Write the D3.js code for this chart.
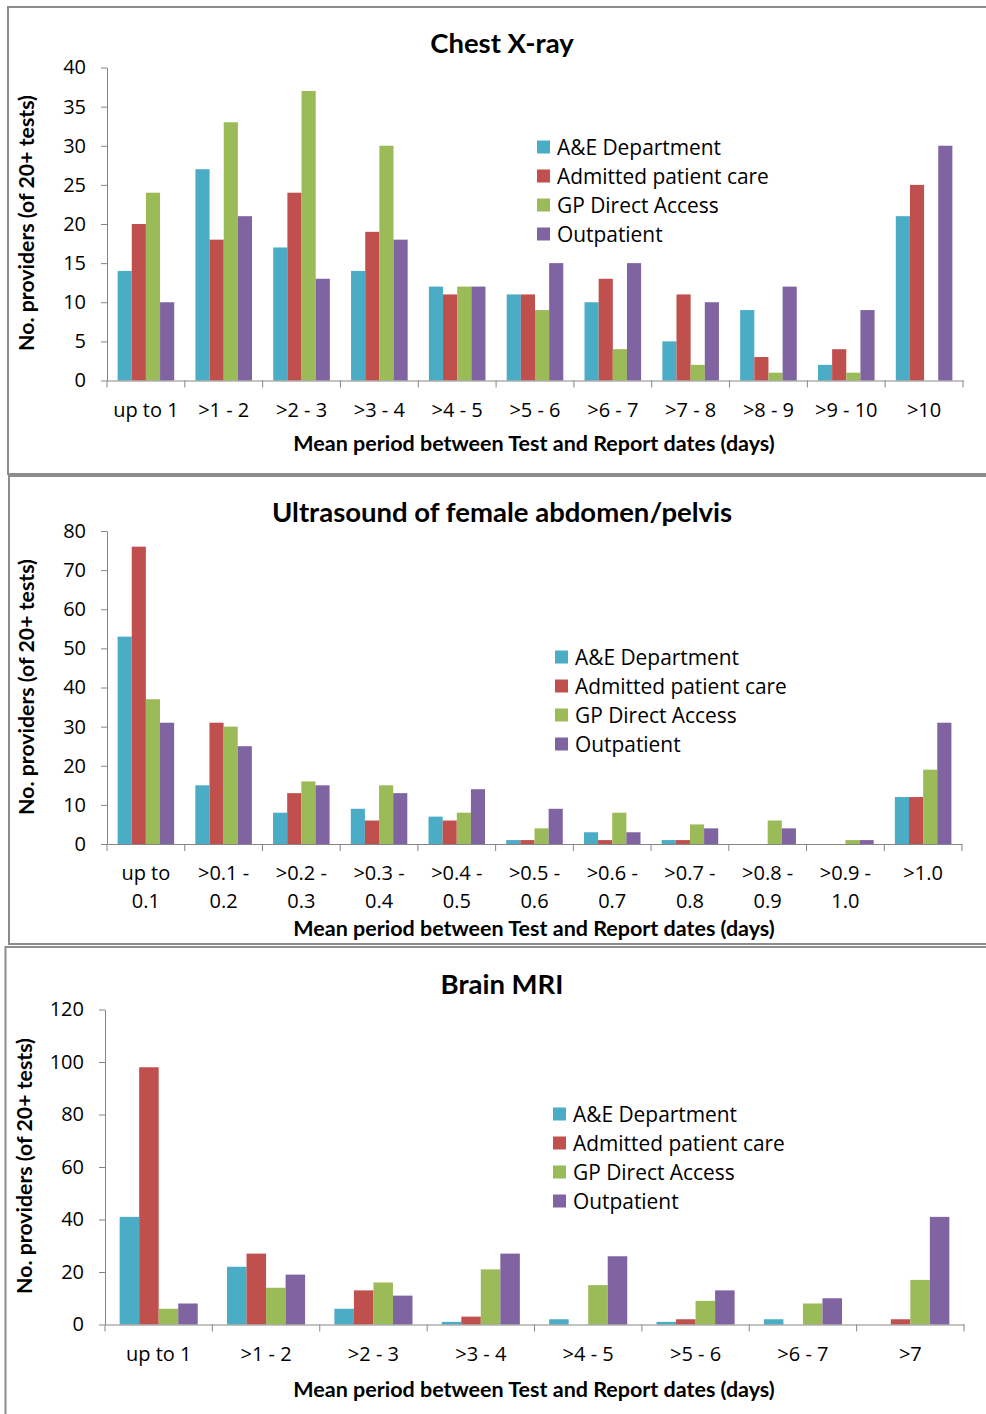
<!DOCTYPE html>
<html>
<head>
<meta charset="utf-8">
<script src="https://cdn.jsdelivr.net/npm/d3@7"></script>
<style>
  html, body { margin: 0; padding: 0; background: #fff; }
  svg { display: block; }
</style>
</head>
<body>
<svg id="fig" width="986" height="1414"></svg>
<script>
// Series shared by all three panels
const seriesNames = ["A&E Department", "Admitted patient care", "GP Direct Access", "Outpatient"];
const seriesColors = ["#4BACC6", "#C0504D", "#9BBB59", "#8064A2"];

// Chest X-ray
const chestCategories = ["up to 1", ">1 - 2", ">2 - 3", ">3 - 4", ">4 - 5", ">5 - 6", ">6 - 7", ">7 - 8", ">8 - 9", ">9 - 10", ">10"];
const chestAE         = [14, 27, 17, 14, 12, 11, 10, 5, 9, 2, 21];
const chestAdmitted   = [20, 18, 24, 19, 11, 11, 13, 11, 3, 4, 25];
const chestGP         = [24, 33, 37, 30, 12, 9, 4, 2, 1, 1, 0];
const chestOutpatient = [10, 21, 13, 18, 12, 15, 15, 10, 12, 9, 30];
const chestTicks = [0, 5, 10, 15, 20, 25, 30, 35, 40];

// Ultrasound of female abdomen/pelvis
const usCategories = [["up to", "0.1"], [">0.1 -", "0.2"], [">0.2 -", "0.3"], [">0.3 -", "0.4"], [">0.4 -", "0.5"], [">0.5 -", "0.6"], [">0.6 -", "0.7"], [">0.7 -", "0.8"], [">0.8 -", "0.9"], [">0.9 -", "1.0"], [">1.0"]];
const usAE         = [53, 15, 8, 9, 7, 1, 3, 1, 0, 0, 12];
const usAdmitted   = [76, 31, 13, 6, 6, 1, 1, 1, 0, 0, 12];
const usGP         = [37, 30, 16, 15, 8, 4, 8, 5, 6, 1, 19];
const usOutpatient = [31, 25, 15, 13, 14, 9, 3, 4, 4, 1, 31];
const usTicks = [0, 10, 20, 30, 40, 50, 60, 70, 80];

// Brain MRI
const mriCategories = ["up to 1", ">1 - 2", ">2 - 3", ">3 - 4", ">4 - 5", ">5 - 6", ">6 - 7", ">7"];
const mriAE         = [41, 22, 6, 1, 2, 1, 2, 0];
const mriAdmitted   = [98, 27, 13, 3, 0, 2, 0, 2];
const mriGP         = [6, 14, 16, 21, 15, 9, 8, 17];
const mriOutpatient = [8, 19, 11, 27, 26, 13, 10, 41];
const mriTicks = [0, 20, 40, 60, 80, 100, 120];

const xTitle = "Mean period between Test and Report dates (days)";
const yTitle = "No. providers (of 20+ tests)";

const svg = d3.select("#fig");
const AXIS = "#868686";
const SANS = "'Open Sans', sans-serif";
const BOLD = "Lato, 'Open Sans', sans-serif";

// Panel frames
const frames = [
  { x: 8, y: 7, w: 990, h: 467 },
  { x: 9, y: 476, w: 990, h: 468 },
  { x: 5.5, y: 947, w: 990, h: 480 }
];
svg.selectAll("rect.frame").data(frames).join("rect")
  .attr("class", "frame")
  .attr("x", d => d.x).attr("y", d => d.y)
  .attr("width", d => d.w).attr("height", d => d.h)
  .attr("fill", "#fff").attr("stroke", "#8c8c8c").attr("stroke-width", 2);

function drawChart(cfg) {
  const g = svg.append("g");
  const values = cfg.series;
  const cats = cfg.categories.map((c, i) => i);

  const x = d3.scaleBand().domain(cats).range([cfg.x0, cfg.x1]).padding(0);
  const xs = d3.scaleBand().domain(d3.range(seriesNames.length))
    .range([0, x.bandwidth()]).paddingInner(0).paddingOuter(0.75);
  const y = d3.scaleLinear().domain([0, cfg.ticks[cfg.ticks.length - 1]]).range([cfg.y0, cfg.yTop]);

  // bars
  const groups = g.selectAll("g.cat").data(cats).join("g")
    .attr("transform", i => `translate(${x(i)},0)`);
  groups.selectAll("rect").data(i => values.map((s, k) => ({ k, v: s[i] }))).join("rect")
    .attr("x", d => xs(d.k))
    .attr("width", xs.bandwidth())
    .attr("y", d => y(d.v))
    .attr("height", d => y(0) - y(d.v))
    .attr("fill", d => seriesColors[d.k]);

  // y axis
  const yAxis = g.append("g").attr("transform", `translate(${cfg.x0},0)`)
    .call(d3.axisLeft(y).tickValues(cfg.ticks).tickSize(6).tickSizeOuter(0).tickPadding(15));
  yAxis.select(".domain").attr("stroke", AXIS);
  yAxis.selectAll(".tick line").attr("stroke", AXIS);
  yAxis.selectAll(".tick text").attr("fill", "#000").attr("font-size", 20).attr("font-family", SANS);

  // x axis: baseline with ticks at category boundaries
  const xAxis = g.append("g").attr("transform", `translate(0,${cfg.y0})`)
    .call(d3.axisBottom(x).tickSize(0).tickFormat(""));
  xAxis.select(".domain").attr("stroke", AXIS);
  xAxis.selectAll(".tick").remove();
  const bounds = cats.map(i => x(i)).concat([cfg.x1]);
  xAxis.selectAll("line.bound").data(bounds).join("line")
    .attr("class", "bound")
    .attr("x1", d => d).attr("x2", d => d)
    .attr("y1", 0).attr("y2", 7)
    .attr("stroke", AXIS);

  // category labels
  const labels = g.selectAll("text.cat").data(cats).join("text")
    .attr("class", "cat")
    .attr("x", i => x(i) + x.bandwidth() / 2)
    .attr("y", cfg.labelY)
    .attr("text-anchor", "middle")
    .attr("font-family", SANS).attr("font-size", 20).attr("fill", "#000");
  labels.each(function (i) {
    const lab = cfg.categories[i];
    const lines = Array.isArray(lab) ? lab : [lab];
    d3.select(this).selectAll("tspan").data(lines).join("tspan")
      .attr("x", x(i) + x.bandwidth() / 2)
      .attr("dy", (d, j) => j === 0 ? 0 : cfg.lineGap)
      .text(d => d);
  });

  // titles
  g.append("text").attr("x", 502).attr("y", cfg.titleY)
    .attr("text-anchor", "middle").attr("font-family", BOLD).attr("font-weight", 700)
    .attr("font-size", 27.5).text(cfg.title);
  g.append("text").attr("x", 534).attr("y", cfg.xTitleY)
    .attr("text-anchor", "middle").attr("font-family", BOLD).attr("font-weight", 700)
    .attr("font-size", 21.5).text(xTitle);
  g.append("text")
    .attr("transform", `translate(${cfg.yTitleX},${cfg.yTitleY}) rotate(-90)`)
    .attr("text-anchor", "middle").attr("font-family", BOLD).attr("font-weight", 700)
    .attr("font-size", 21.3).text(yTitle);

  // legend
  const leg = g.selectAll("g.leg").data(seriesNames).join("g")
    .attr("transform", (d, k) => `translate(${cfg.legX},${cfg.legY + k * 29})`);
  leg.append("rect").attr("x", 0).attr("y", -6.5).attr("width", 13).attr("height", 13)
    .attr("fill", (d, k) => seriesColors[k]);
  leg.append("text").attr("x", 20).attr("y", 7.5)
    .attr("font-family", SANS).attr("font-size", 20.9).attr("fill", "#000")
    .text(d => d);
}

drawChart({
  title: "Chest X-ray", categories: chestCategories,
  series: [chestAE, chestAdmitted, chestGP, chestOutpatient], ticks: chestTicks,
  x0: 107, x1: 963, y0: 380.5, yTop: 67.5,
  labelY: 416.5, lineGap: 0, titleY: 53, xTitleY: 451,
  yTitleX: 34, yTitleY: 223, legX: 537, legY: 147
});

drawChart({
  title: "Ultrasound of female abdomen/pelvis", categories: usCategories,
  series: [usAE, usAdmitted, usGP, usOutpatient], ticks: usTicks,
  x0: 107, x1: 962, y0: 844, yTop: 531,
  labelY: 880, lineGap: 28, titleY: 522, xTitleY: 935.5,
  yTitleX: 34, yTitleY: 687, legX: 555, legY: 657
});

drawChart({
  title: "Brain MRI", categories: mriCategories,
  series: [mriAE, mriAdmitted, mriGP, mriOutpatient], ticks: mriTicks,
  x0: 105, x1: 964, y0: 1324.5, yTop: 1009.5,
  labelY: 1361, lineGap: 0, titleY: 994, xTitleY: 1396.5,
  yTitleX: 32, yTitleY: 1166, legX: 553, legY: 1114
});
</script>
</body>
</html>
